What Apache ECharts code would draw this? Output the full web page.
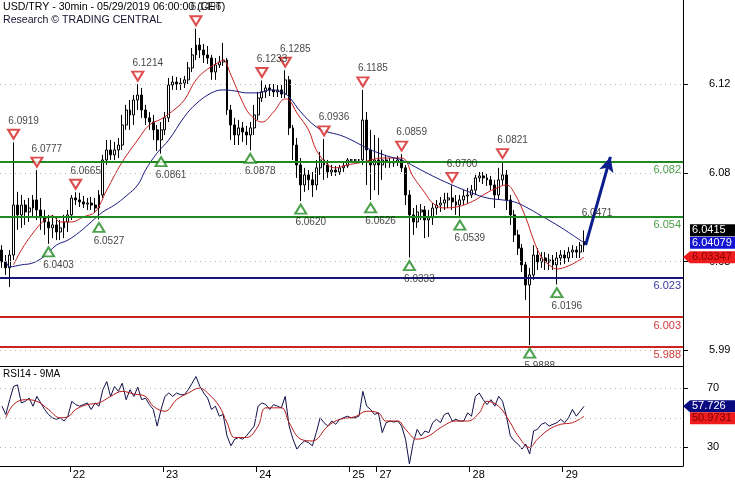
<!DOCTYPE html>
<html><head><meta charset="utf-8">
<script src="https://cdn.jsdelivr.net/npm/echarts@6/dist/echarts.min.js"></script>
<style>html,body{margin:0;padding:0;background:#fff}#c{width:735px;height:480px}</style>
</head><body><div id="c"></div>
<script>
// ---------- DATA ----------
const slotCount = 176; // hourly slots on the time axis
const daySlots = [18, 42, 66, 90, 97, 121, 145];
const dayLabels = ['22', '23', '24', '25', '27', '28', '29'];
const priceTicks = [6.1213, 6.0763, 6.0313, 5.9863];
const rsiTicks = [70, 30];
const rsiGrid = [70, 50, 30];

const opens = [6.0371,6.0311,6.0281,6.0346,6.0600,6.0550,6.0600,6.0565,6.0585,6.0626,
6.0575,6.0535,6.0514,6.0484,6.0499,6.0463,6.0484,6.0514,6.0550,6.0636,
6.0626,6.0616,6.0605,6.0610,6.0600,6.0585,6.0651,6.0829,6.0880,6.0855,
6.0880,6.0905,6.1007,6.1083,6.1058,6.1134,6.1159,6.1083,6.1043,6.1022,
6.0982,6.0931,6.0982,6.1043,6.1210,6.1225,6.1215,6.1220,6.1236,6.1297,
6.1363,6.1413,6.1388,6.1363,6.1347,6.1276,6.1312,6.1327,6.1337,6.1083,
6.1007,6.0956,6.0992,6.0971,6.0956,6.0992,6.1058,6.1144,6.1175,6.1195,
6.1185,6.1175,6.1185,6.1164,6.1236,6.0992,6.0905,6.0804,6.0702,6.0753,
6.0728,6.0702,6.0789,6.0829,6.0804,6.0768,6.0778,6.0768,6.0789,6.0799,
6.0829,6.0829,6.0829,6.0829,6.1032,6.0880,6.0804,6.0829,6.0804,6.0829,
6.0819,6.0814,6.0819,6.0829,6.0789,6.0651,6.0550,6.0514,6.0565,6.0575,
6.0524,6.0535,6.0585,6.0600,6.0610,6.0626,6.0636,6.0616,6.0600,6.0626,
6.0646,6.0651,6.0676,6.0738,6.0748,6.0738,6.0728,6.0702,6.0651,6.0728,
6.0753,6.0626,6.0550,6.0448,6.0381,6.0296,6.0194,6.0245,6.0346,6.0311,
6.0331,6.0311,6.0321,6.0296,6.0331,6.0346,6.0331,6.0361,6.0371,6.0361,
6.0396];
const closes = [6.0311,6.0281,6.0346,6.0600,6.0550,6.0600,6.0565,6.0585,6.0626,6.0575,
6.0535,6.0514,6.0484,6.0499,6.0463,6.0484,6.0514,6.0550,6.0636,6.0626,
6.0616,6.0605,6.0610,6.0600,6.0585,6.0651,6.0829,6.0880,6.0855,6.0880,
6.0905,6.1007,6.1083,6.1058,6.1134,6.1159,6.1083,6.1043,6.1022,6.0982,
6.0931,6.0982,6.1043,6.1210,6.1225,6.1215,6.1220,6.1236,6.1297,6.1363,
6.1413,6.1388,6.1363,6.1347,6.1276,6.1312,6.1327,6.1337,6.1083,6.1007,
6.0956,6.0992,6.0971,6.0956,6.0992,6.1058,6.1144,6.1175,6.1195,6.1185,
6.1175,6.1185,6.1164,6.1236,6.0992,6.0905,6.0804,6.0702,6.0753,6.0728,
6.0702,6.0789,6.0829,6.0804,6.0768,6.0778,6.0768,6.0789,6.0799,6.0829,
6.0829,6.0829,6.0829,6.1032,6.0880,6.0804,6.0829,6.0804,6.0829,6.0819,
6.0814,6.0819,6.0829,6.0789,6.0651,6.0550,6.0514,6.0565,6.0575,6.0524,
6.0535,6.0585,6.0600,6.0610,6.0626,6.0636,6.0616,6.0600,6.0626,6.0646,
6.0651,6.0676,6.0738,6.0748,6.0738,6.0728,6.0702,6.0651,6.0728,6.0753,
6.0626,6.0550,6.0448,6.0381,6.0296,6.0194,6.0245,6.0346,6.0311,6.0331,
6.0311,6.0321,6.0296,6.0331,6.0346,6.0331,6.0361,6.0371,6.0361,6.0396,
6.0415];
const lows = [6.0281,6.0245,6.0184,6.0321,6.0474,6.0484,6.0499,6.0514,6.0535,6.0524,
6.0474,6.0448,6.0403,6.0432,6.0422,6.0422,6.0432,6.0463,6.0524,6.0600,
6.0590,6.0585,6.0575,6.0575,6.0560,6.0527,6.0636,6.0804,6.0829,6.0829,
6.0839,6.0880,6.0982,6.0982,6.1007,6.1083,6.1043,6.1007,6.0982,6.0931,
6.0875,6.0861,6.0956,6.1022,6.1185,6.1185,6.1185,6.1195,6.1215,6.1276,
6.1337,6.1347,6.1322,6.1317,6.1236,6.1236,6.1297,6.1307,6.1058,6.0931,
6.0905,6.0905,6.0921,6.0905,6.0878,6.0956,6.1032,6.1124,6.1144,6.1154,
6.1149,6.1149,6.1144,6.1144,6.0956,6.0829,6.0738,6.0620,6.0667,6.0676,
6.0641,6.0676,6.0753,6.0728,6.0738,6.0748,6.0748,6.0753,6.0768,6.0789,
6.0824,6.0824,6.0824,6.0804,6.0702,6.0626,6.0676,6.0651,6.0728,6.0789,
6.0789,6.0794,6.0799,6.0768,6.0600,6.0333,6.0448,6.0484,6.0524,6.0432,
6.0438,6.0499,6.0550,6.0565,6.0575,6.0585,6.0575,6.0550,6.0539,6.0600,
6.0610,6.0636,6.0651,6.0717,6.0707,6.0697,6.0676,6.0585,6.0626,6.0702,
6.0575,6.0499,6.0412,6.0346,6.0260,6.0118,5.9888,6.0220,6.0270,6.0281,
6.0270,6.0270,6.0270,6.0196,6.0296,6.0301,6.0311,6.0331,6.0331,6.0331,
6.0361];
const highs = [6.0396,6.0346,6.0371,6.0919,6.0667,6.0651,6.0626,6.0636,6.0651,6.0777,
6.0636,6.0575,6.0550,6.0550,6.0535,6.0524,6.0550,6.0575,6.0651,6.0665,
6.0662,6.0646,6.0636,6.0641,6.0636,6.0676,6.0855,6.0931,6.0931,6.0921,
6.0941,6.1058,6.1109,6.1134,6.1159,6.1214,6.1195,6.1109,6.1073,6.1058,
6.1007,6.1022,6.1073,6.1246,6.1256,6.1251,6.1246,6.1256,6.1327,6.1398,
6.1496,6.1449,6.1418,6.1408,6.1363,6.1347,6.1358,6.1424,6.1347,6.1109,
6.1043,6.1032,6.1022,6.1002,6.1022,6.1109,6.1175,6.1233,6.1210,6.1215,
6.1215,6.1210,6.1210,6.1285,6.1256,6.1007,6.0941,6.0839,6.0789,6.0778,
6.0768,6.0829,6.0870,6.0936,6.0829,6.0804,6.0799,6.0804,6.0814,6.0839,
6.0834,6.0834,6.0834,6.1185,6.1073,6.0982,6.0956,6.0941,6.0880,6.0855,
6.0839,6.0839,6.0850,6.0859,6.0804,6.0676,6.0585,6.0600,6.0605,6.0595,
6.0575,6.0610,6.0626,6.0641,6.0662,6.0662,6.0700,6.0651,6.0651,6.0676,
6.0687,6.0702,6.0753,6.0768,6.0768,6.0758,6.0748,6.0728,6.0789,6.0821,
6.0778,6.0651,6.0575,6.0474,6.0402,6.0311,6.0281,6.0396,6.0381,6.0361,
6.0361,6.0352,6.0346,6.0361,6.0371,6.0371,6.0386,6.0396,6.0391,6.0412,
6.0471];

const redMA = [[3,6.0296],[5,6.0371],[8,6.0458],[11,6.0524],[13,6.0545],[15,6.0514],[18,6.0514],
[21,6.0540],[24,6.0565],[27,6.0676],[31,6.0819],[35,6.0931],[38,6.1007],[41,6.1037],[44,6.1078],
[47,6.1134],[50,6.1236],[53,6.1291],[56,6.1327],[57,6.1337],[59,6.1261],[62,6.1124],[64,6.1058],
[67,6.1022],[70,6.1073],[73,6.1139],[74,6.1134],[76,6.1068],[79,6.0982],[81,6.0880],[84,6.0804],
[86,6.0789],[89,6.0804],[92,6.0814],[95,6.0829],[98,6.0839],[103,6.0839],[106,6.0743],[109,6.0662],
[111,6.0610],[114,6.0585],[117,6.0590],[119,6.0600],[122,6.0626],[124,6.0651],[127,6.0682],
[130,6.0702],[132,6.0662],[135,6.0535],[137,6.0422],[139,6.0336],[141,6.0296],[143,6.0275],
[146,6.0291],[148,6.0311],[150,6.03347]];
const blueMA = [[1,6.0316],[2,6.0286],[5,6.0296],[8,6.0306],[11,6.0341],[14,6.0396],[17,6.0422],
[20,6.0463],[23,6.0514],[26,6.0565],[29,6.0600],[32,6.0646],[35,6.0702],[37,6.0778],[40,6.0865],
[43,6.0931],[47,6.1048],[50,6.1114],[54,6.1170],[57,6.1185],[60,6.1180],[63,6.1170],[66,6.1170],
[69,6.1185],[72,6.1175],[74,6.1149],[77,6.1073],[81,6.0997],[84,6.0971],[87,6.0956],[90,6.0931],
[94,6.0890],[97,6.0865],[100,6.0845],[103,6.0829],[108,6.0778],[112,6.0738],[116,6.0702],
[121,6.0662],[125,6.0636],[129,6.0626],[132,6.0616],[135,6.0590],[139,6.0545],[143,6.0499],
[147,6.0448],[150,6.04079]];

const rsi = [57.8,52.2,62.2,71.1,72.2,60,61.1,63.3,57.8,64.4,
60,55.6,52.2,50,48.9,50,47.8,51.1,61.1,58.9,
57.8,58.9,60,55.6,60,57.8,68.9,74.4,64.4,71.1,
67.8,73.3,62.2,68.9,64.4,70.7,62.2,63.3,58.9,55.6,
44.4,55.6,64.4,66.7,64.4,66.7,65.6,65.6,68.9,73.3,
77.8,71.1,66.7,63.3,55.6,57.8,51.1,52.2,37.8,31.1,
35.6,36.7,35.6,37.8,41.1,44.4,57.8,60,58.9,55.6,
58.9,57.8,56.7,64.4,44.4,35.6,28.9,32.2,34.4,33.3,
31.1,40,50,46.7,44.4,47.8,45.6,48.9,50,51.1,
50,50,51.1,67.8,57.8,55.6,52.2,53.3,40,46.7,
47.8,47.1,47.8,44.4,35.6,18.9,33.3,42.2,37.8,41.1,
40,46.7,48.9,46.7,52.2,53.3,47.8,48.9,47.8,47.8,
53.3,51.1,64.4,66.7,62.2,58.9,62.2,57.8,64.4,61.1,
51.1,37.8,34.4,32.2,28.9,32.2,25.6,41.1,42.2,45.6,
46.7,44.4,45.6,46.7,48.9,46.7,50,55.6,51.1,54.4,
57.726];
const rsiMA = [[1,50],[3,58.9],[6,62.2],[9,61.1],[12,55.6],[15,50],[17,50.7],[19,55.6],[22,58.9],
[25,60],[28,64.4],[31,67.8],[34,66],[37,64.4],[39,57.8],[42,54.4],[45,62.2],[48,66.7],[51,70],
[53,66.7],[56,57.8],[58,46.7],[60,36.7],[63,36.7],[66,44.4],[68,56.7],[72,56.7],[74,46.7],
[77,35.6],[80,34.4],[84,44.4],[87,48.9],[91,50.7],[94,54.4],[97,53.3],[99,47.8],[102,47.8],
[104,42.2],[107,35.6],[110,37.8],[113,43.3],[117,47.8],[120,47.8],[123,53.3],[125,61.1],
[128,57.8],[131,46.7],[133,37.8],[136,30],[138,35.6],[141,42.2],[144,45.6],[147,46.7],[150,50.9731]];

const levels = [6.082, 6.054, 6.023, 6.003, 5.988];
const highMarks = [[3,6.0919],[9,6.0777],[19,6.0665],[35,6.1214],[50,6.1496],[67,6.1233],[73,6.1285],
[83,6.0936],[93,6.1185],[103,6.0859],[116,6.0700],[129,6.0821]];
const lowMarks = [[12,6.0403],[25,6.0527],[41,6.0861],[64,6.0878],[77,6.0620],[95,6.0626],
[105,6.0333],[118,6.0539],[136,5.9888],[143,6.0196]];
const lastHighMark = [[150,6.0471]];
const forecast = [[150.4,6.0397],[156.8,6.0845]];
const lastPrice = 6.0415, lastBlue = 6.04079, lastRed = 6.03347;
const lastRsi = 57.726, lastRsiMA = 50.9731;

// ---------- STYLE ----------
const FONT = 'Liberation Sans';
const levelColors = ['#1f8a1f','#1f8a1f','#15157a','#cc2222','#cc2222'];
const levelText = ['#4a9e4a','#4a9e4a','#3a3aa0','#d03a3a','#d03a3a'];

const cats = Array.from({length: slotCount}, (_, i) => String(i));
const candles = opens.map((o, i) => [o, closes[i], lows[i], highs[i]]);
const dayTickVals = daySlots.map(s => s - 0.5);

const chart = echarts.init(document.getElementById('c'), null, {renderer: 'canvas'});
const dotted = {color: '#b4b4b4', type: [1, 4], width: 1};
const axisLineStyle = {show: true, onZero: false, lineStyle: {color: '#000', width: 1}};

const option = {
  animation: false,
  backgroundColor: '#fff',
  textStyle: {fontFamily: FONT},
  title: [
    {text: 'USD/TRY - 30min - 05/29/2019 06:00:00 (CET)', subtext: 'Research \u00A9 TRADING CENTRAL',
     left: 1, top: 1, padding: [1, 2], itemGap: 2,
     textStyle: {fontSize: 10.6, fontWeight: 'normal', color: '#000', fontFamily: FONT},
     subtextStyle: {fontSize: 10.6, color: '#1a1030', fontFamily: FONT}},
    {text: 'RSI14 - 9MA', left: 1, top: 368, padding: [1, 2],
     textStyle: {fontSize: 10, fontWeight: 'normal', color: '#000', fontFamily: FONT}}
  ],
  grid: [
    {left: 0, top: 0, width: 683, height: 366},
    {left: 0, top: 366, width: 683, height: 100}
  ],
  xAxis: [
    {type: 'category', gridIndex: 0, data: cats, boundaryGap: true,
     axisLine: axisLineStyle, axisTick: {show: false},
     axisLabel: {show: false}, splitLine: {show: false}},
    {type: 'value', gridIndex: 0, min: -0.5, max: slotCount - 0.5, show: false},
    {type: 'value', gridIndex: 1, min: -0.5, max: slotCount - 0.5,
     axisLine: axisLineStyle,
     axisTick: {show: true, customValues: dayTickVals, length: 6, lineStyle: {color: '#000'}},
     axisLabel: {show: true, customValues: dayTickVals, margin: 3, align: 'left', padding: [0, 0, 0, 3],
       fontSize: 11, color: '#000', fontFamily: FONT,
       formatter: v => { const k = dayTickVals.findIndex(t => Math.abs(t - v) < 0.01); return k >= 0 ? dayLabels[k] : ''; }},
     splitLine: {show: false}}
  ],
  yAxis: [
    {type: 'value', gridIndex: 0, position: 'right', min: 5.9782, max: 6.1642,
     axisLine: axisLineStyle,
     axisTick: {show: true, customValues: priceTicks, length: 5, lineStyle: {color: '#000'}},
     axisLabel: {show: true, customValues: priceTicks, margin: 26, fontSize: 11, color: '#000', fontFamily: FONT,
       formatter: v => v.toFixed(2)},
     splitLine: {show: false}},
    {type: 'value', gridIndex: 1, position: 'right', min: 17.5, max: 84.9,
     axisLine: axisLineStyle,
     axisTick: {show: true, customValues: rsiTicks, length: 5, lineStyle: {color: '#000'}},
     axisLabel: {show: true, customValues: rsiTicks, margin: 24, fontSize: 11, color: '#000', fontFamily: FONT},
     splitLine: {show: false}}
  ],
  series: [
    {type: 'line', xAxisIndex: 1, yAxisIndex: 0, data: [], z: 1, silent: true,
     markLine: {silent: true, precision: 6, symbol: 'none', label: {show: false}, lineStyle: dotted,
       data: priceTicks.map(v => ({yAxis: v}))}},
    {type: 'line', xAxisIndex: 2, yAxisIndex: 1, data: [], z: 1, silent: true,
     markLine: {silent: true, precision: 6, symbol: 'none', label: {show: false}, lineStyle: dotted,
       data: rsiGrid.map(v => ({yAxis: v}))}},
    {type: 'line', xAxisIndex: 1, yAxisIndex: 0, data: [], z: 2, silent: true,
     markLine: {silent: true, precision: 6, symbol: 'none',
       data: levels.map((v, i) => ({yAxis: v,
         lineStyle: {color: levelColors[i], width: 2, type: 'solid'},
         label: {show: true, position: 'insideEndBottom', formatter: String(v), color: levelText[i],
           fontSize: 11, fontFamily: FONT, distance: [2, 3]}}))}},
    {type: 'candlestick', xAxisIndex: 0, yAxisIndex: 0, data: candles, barWidth: '62%', z: 3,
     itemStyle: {color: '#fff', color0: '#000', borderColor: '#000', borderColor0: '#000', borderWidth: 1}},
    {type: 'line', xAxisIndex: 1, yAxisIndex: 0, data: redMA, smooth: 0.4, symbol: 'none', z: 4,
     lineStyle: {color: '#c82020', width: 1}},
    {type: 'line', xAxisIndex: 1, yAxisIndex: 0, data: blueMA, smooth: 0.4, symbol: 'none', z: 4,
     lineStyle: {color: '#1a1a80', width: 1}},
    {type: 'scatter', xAxisIndex: 1, yAxisIndex: 0, data: highMarks, z: 5, clip: false,
     symbol: 'emptyTriangle', symbolRotate: 180, symbolSize: [11, 9], symbolOffset: [0, -8],
     itemStyle: {color: '#d42020', borderWidth: 1.2},
     label: {show: true, position: 'top', distance: 3, offset: [10, 0], formatter: p => p.value[1].toFixed(4),
       fontSize: 10, color: '#111', fontFamily: FONT}},
    {type: 'scatter', xAxisIndex: 1, yAxisIndex: 0, data: lowMarks, z: 5, clip: false,
     symbol: 'emptyTriangle', symbolSize: [11, 9], symbolOffset: [0, 8],
     itemStyle: {color: '#1f8a1f', borderWidth: 1.2},
     label: {show: true, position: 'bottom', distance: 3, offset: [10, 0], formatter: p => p.value[1].toFixed(4),
       fontSize: 10, color: '#111', fontFamily: FONT}},
    {type: 'scatter', xAxisIndex: 1, yAxisIndex: 0, data: lastHighMark, z: 5, clip: false,
     symbol: 'circle', symbolSize: 1, itemStyle: {color: 'rgba(0,0,0,0)'},
     label: {show: true, position: 'top', distance: 12, offset: [13, 0], formatter: p => p.value[1].toFixed(4),
       fontSize: 10, color: '#111', fontFamily: FONT}},
    {type: 'line', xAxisIndex: 1, yAxisIndex: 0, data: [], z: 6, silent: true,
     markLine: {silent: true, precision: 6, symbol: ['none', 'arrow'], symbolSize: [11, 15], label: {show: false},
       lineStyle: {color: '#0c1d8c', width: 3, type: 'solid'},
       data: [[{coord: forecast[0]}, {coord: forecast[1]}]]}},
    {type: 'line', xAxisIndex: 2, yAxisIndex: 1, data: rsi.map((v, i) => [i, v]), symbol: 'none', z: 3,
     lineStyle: {color: '#10104a', width: 1}},
    {type: 'line', xAxisIndex: 2, yAxisIndex: 1, data: rsiMA, smooth: 0.4, symbol: 'none', z: 4,
     lineStyle: {color: '#b81818', width: 1}}
  ]
};
chart.setOption(option);

function addTags() {
  const y0 = v => chart.convertToPixel({yAxisIndex: 0}, v);
  const y1 = v => chart.convertToPixel({yAxisIndex: 1}, v);
  const els = [];
  function tag(y, bg, fg, txt, pointer) {
    const pts = pointer
      ? [[683, y], [690, y - 6], [735, y - 6], [735, y + 6], [690, y + 6]]
      : [[690, y - 6], [735, y - 6], [735, y + 6], [690, y + 6]];
    els.push({type: 'polygon', shape: {points: pts}, style: {fill: bg}, z: 100});
    els.push({type: 'text', x: 692, y: y, z: 101,
      style: {text: txt, fill: fg, font: '11px "Liberation Sans"', align: 'left', verticalAlign: 'middle'}});
  }
  const yBlue = y0(lastBlue);
  tag(y0(lastRed), '#ee1c1c', '#8a0000', String(lastRed), true);
  tag(yBlue, '#1414d2', '#fff', String(lastBlue), false);
  tag(yBlue - 12.5, '#000', '#fff', String(lastPrice), false);
  const yR = y1(lastRsi);
  tag(yR, '#0a0a80', '#fff', String(lastRsi), true);
  tag(Math.max(y1(lastRsiMA), yR + 12), '#ee1c1c', '#7a0000', String(lastRsiMA), false);
  // hide the part of the lowest label that falls into the RSI pane
  els.push({type: 'rect', shape: {x: 505, y: 367, width: 60, height: 12}, style: {fill: '#fff'}, z: 99});
  chart.setOption({graphic: els});
}
addTags();
</script></body></html>
